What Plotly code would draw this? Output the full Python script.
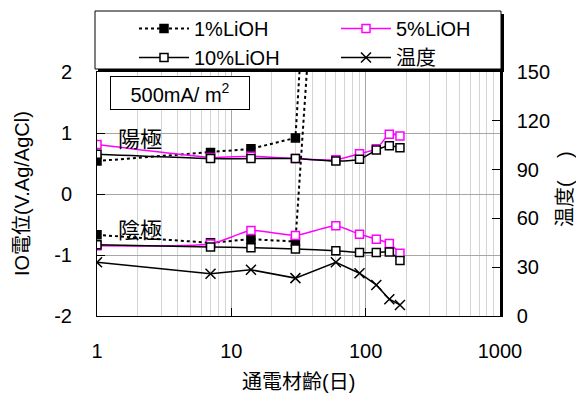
import plotly.graph_objects as go

# ---- data ----
days = [1, 7, 14, 30, 60, 90, 120, 150, 180]

# 1% LiOH (goes off-chart after 30 days)
days_1a = [1, 7, 14, 30, 39]
anode_1 = [0.54, 0.68, 0.74, 0.92, 5.0]
days_1c = [1, 7, 14, 30, 45]
cathode_1 = [-0.67, -0.80, -0.74, -0.78, 5.0]

anode_5 = [0.81, 0.60, 0.62, 0.58, 0.56, 0.66, 0.74, 0.98, 0.95]
cathode_5 = [-0.85, -0.82, -0.60, -0.68, -0.52, -0.66, -0.74, -0.81, -0.97]

anode_10 = [0.65, 0.58, 0.58, 0.58, 0.54, 0.57, 0.72, 0.79, 0.76]
cathode_10 = [-0.83, -0.87, -0.88, -0.90, -0.93, -0.96, -0.96, -0.95, -1.09]

temperature = [33, 26, 28.4, 23.3, 33, 26.3, 19.1, 10.3, 6.8]

x_ticks = [1, 10, 100, 1000]
y_ticks = [-2, -1, 0, 1, 2]
y2_ticks = [0, 30, 60, 90, 120, 150]

FONT = "Liberation Sans, Arial, Noto Sans CJK JP, sans-serif"
CJK = "Noto Sans CJK JP, Liberation Sans, sans-serif"
MAG = "#FF00FF"

W, H = 576, 386   # page body has an 8px margin

fig = go.Figure()

def add(x, y, name, color, dash, mfill, symbol, show, yaxis="y", shape="spline", width=1.5, msize=8):
    fig.add_trace(go.Scatter(
        x=x, y=y, name=name, showlegend=show, yaxis=yaxis,
        mode="lines+markers",
        line=dict(color=color, width=width, dash=dash, shape=shape, smoothing=0.5),
        marker=dict(symbol=symbol, size=msize, color=mfill,
                    line=dict(color=color, width=1.5)),
    ))

# legend-bearing traces first (order: 1%, 5%, 10%, 温度)
add(days_1a, anode_1, "1%LiOH", "black", "3px,3px", "black", "square", True, shape="linear", width=2)
add(days, anode_5, "5%LiOH", MAG, "solid", "white", "square", True)
add(days, anode_10, "10%LiOH", "black", "solid", "white", "square", True)
add(days, temperature, "温度", "black", "solid", "black", "x-thin", True, yaxis="y2", shape="linear", msize=10)
add(days_1c, cathode_1, "1%LiOH", "black", "3px,3px", "black", "square", False, shape="linear", width=2)
add(days, cathode_5, "5%LiOH", MAG, "solid", "white", "square", False)
add(days, cathode_10, "10%LiOH", "black", "solid", "white", "square", False)

# legend frame (box with drop shadow), in plot-paper units
px = lambda p: (p - 97) / 403.0
py = lambda p: (316 - p) / 244.0
shapes = [
    dict(type="rect", xref="paper", yref="paper", x0=px(98), x1=px(504), y0=py(72), y1=py(14),
         fillcolor="black", line=dict(width=0), layer="above"),
    dict(type="rect", xref="paper", yref="paper", x0=px(95), x1=px(501), y0=py(69), y1=py(11),
         fillcolor="white", line=dict(color="black", width=1), layer="above"),
]

fig.update_layout(
    width=W, height=H,
    margin=dict(l=89, r=84, t=64, b=78, autoexpand=False),
    paper_bgcolor="white", plot_bgcolor="white",
    font=dict(family=FONT, size=20, color="black"),
    showlegend=True,
    shapes=shapes,
    legend=dict(
        orientation="h", xref="container", yref="paper",
        x=126 / W, xanchor="left", y=py(9), yanchor="top",
        entrywidth=137, entrywidthmode="pixels", itemwidth=50,
        bgcolor="rgba(0,0,0,0)", borderwidth=0,
        font=dict(family=FONT, size=20), tracegroupgap=0,
    ),
    xaxis=dict(
        type="log", range=[0, 3], tickvals=x_ticks, ticktext=[str(v) for v in x_ticks],
        showgrid=True, gridcolor="#a6a6a6", gridwidth=1,
        minor=dict(showgrid=True, gridcolor="#d4d4d4", dtick="D1", ticks=""),
        ticks="inside", ticklen=8, tickcolor="black",
        showline=True, linecolor="black", linewidth=1, mirror=True,
        ticklabelstandoff=17, zeroline=False,
    ),
    yaxis=dict(
        range=[-2, 2], tickvals=y_ticks, ticktext=["-2", "-1", "0", "1", "2"],
        showgrid=True, gridcolor="#a6a6a6", gridwidth=1,
        ticks="inside", ticklen=8, tickcolor="black",
        showline=True, linecolor="black", linewidth=1,
        ticklabelstandoff=20, zeroline=False,
    ),
    yaxis2=dict(
        range=[0, 150], tickvals=y2_ticks, overlaying="y", side="right",
        showgrid=False, ticks="inside", ticklen=8, tickcolor="black",
        showline=True, linecolor="black", linewidth=2.5,
        ticklabelstandoff=10, zeroline=False,
    ),
    annotations=[
        dict(text="500mA/ m<sup>2</sup>", xref="paper", yref="paper", x=0.206, y=0.912,
             xanchor="center", yanchor="middle",
             showarrow=False, bordercolor="black", borderwidth=1, bgcolor="white",
             width=136, height=30, font=dict(size=20)),
        dict(text="陽極", xref="paper", yref="paper", x=0.107, y=0.734, showarrow=False,
             xanchor="center", yanchor="middle", font=dict(family=CJK, size=22)),
        dict(text="陰極", xref="paper", yref="paper", x=0.107, y=0.361, showarrow=False,
             xanchor="center", yanchor="middle", font=dict(family=CJK, size=22)),
        dict(text="IO電位(V.Ag/AgCl)", xref="paper", yref="paper", x=-0.186, y=0.5,
             xanchor="center", yanchor="middle",
             textangle=-90, showarrow=False, font=dict(family=FONT, size=20)),
        dict(text="温度(    )", xref="paper", yref="paper", x=1.161, y=0.52,
             xanchor="center", yanchor="middle",
             textangle=-90, showarrow=False, font=dict(family=FONT, size=20)),
        dict(text="通電材齡(日)", xref="paper", yref="paper", x=0.5, y=-0.27,
             xanchor="center", yanchor="middle",
             showarrow=False, font=dict(family=FONT, size=20)),
    ],
)

fig.write_html("out.html")
